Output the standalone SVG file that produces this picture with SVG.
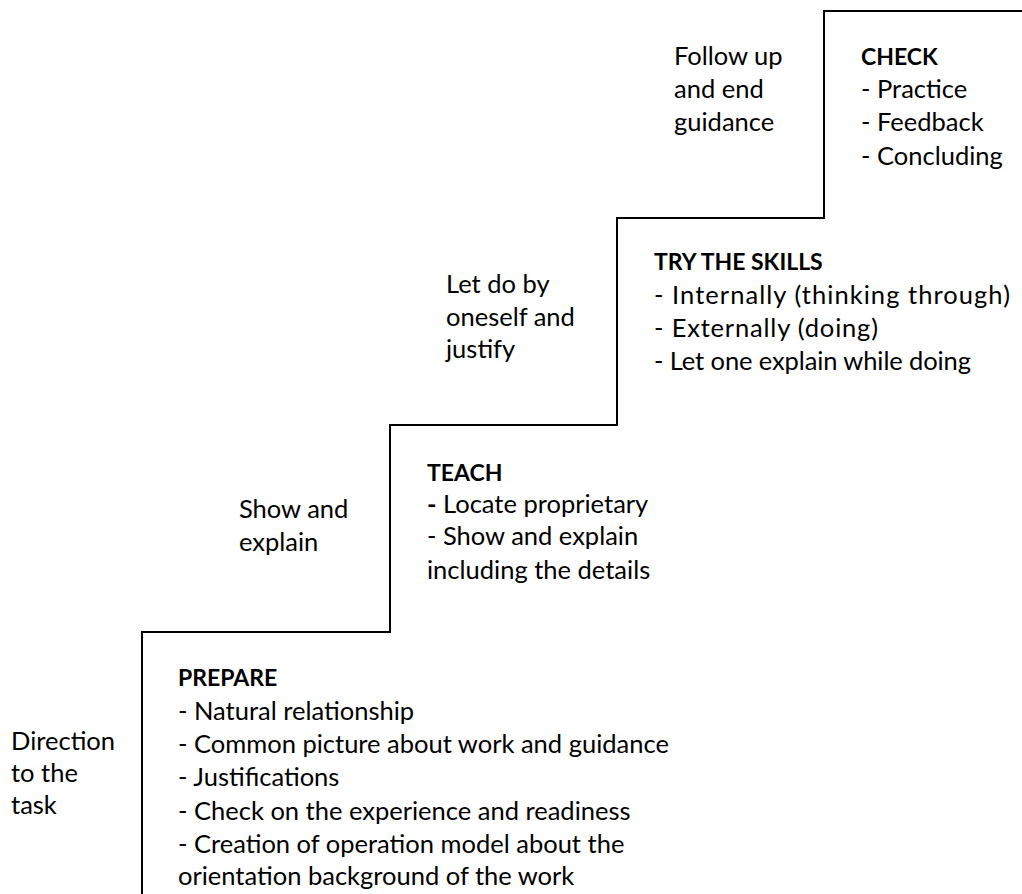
<svg xmlns="http://www.w3.org/2000/svg" width="1022" height="894" viewBox="0 0 1022 894">
  <style>
    text { font-family: Lato, "Liberation Sans", sans-serif; font-size: 25.5px; fill: #000; }
    .title { font-weight: bold; font-size: 23px; }
    .stair { fill: none; stroke: #000; stroke-width: 2; }
  </style>
  <rect width="1022" height="894" fill="#fff"/>

  <!-- staircase outline -->
  <g id="connectors">
    <path class="stair" d="M142,894 V632 H390 V425 H617 V218 H824 V11 H1022"/>
  </g>

  <!-- step 1: prepare -->
  <g id="step-prepare">
    <text x="11" y="750">Direction</text>
    <text x="11" y="782">to the</text>
    <text x="11" y="814">task</text>
    <text class="title" x="178" y="686">PREPARE</text>
    <text x="178" y="720">- Natural relationship</text>
    <text x="178" y="753">- Common picture about work and guidance</text>
    <text x="178" y="786">- Justifications</text>
    <text x="178" y="820">- Check on the experience and readiness</text>
    <text x="178" y="853">- Creation of operation model about the</text>
    <text x="178" y="885">orientation background of the work</text>
  </g>

  <!-- step 2: teach -->
  <g id="step-teach">
    <text x="239" y="518">Show and</text>
    <text x="239" y="551">explain</text>
    <text class="title" x="427" y="481">TEACH</text>
    <text x="427" y="513"><tspan font-weight="bold">-</tspan> Locate proprietary</text>
    <text x="427" y="545">- Show and explain</text>
    <text x="427" y="579">including the details</text>
  </g>

  <!-- step 3: try the skills -->
  <g id="step-try">
    <text x="446" y="293">Let do by</text>
    <text x="446" y="326">oneself and</text>
    <text x="446" y="358">justify</text>
    <text class="title" x="654" y="270">TRY THE SKILLS</text>
    <text x="654" y="304" textLength="356">- Internally (thinking through)</text>
    <text x="654" y="337" textLength="224">- Externally (doing)</text>
    <text x="654" y="370" textLength="317">- Let one explain while doing</text>
  </g>

  <!-- step 4: check -->
  <g id="step-check">
    <text x="674" y="65">Follow up</text>
    <text x="674" y="98">and end</text>
    <text x="674" y="131">guidance</text>
    <text class="title" x="861" y="65">CHECK</text>
    <text x="861" y="98">- Practice</text>
    <text x="861" y="131">- Feedback</text>
    <text x="861" y="165">- Concluding</text>
  </g>
</svg>
